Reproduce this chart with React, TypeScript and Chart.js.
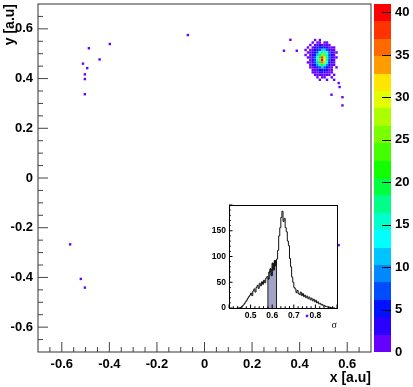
import React, { useEffect, useRef } from "react";
import { Chart, registerables } from "chart.js";
Chart.register(...registerables);

const FONT = "'Liberation Sans', Arial, Helvetica, sans-serif";

// ---------- main 2D histogram ----------
const BIN_SIZE = 0.01;
const clusterX0 = 0.42; // left edge of first cluster column
const clusterYTop = 0.56; // top edge of first cluster row
const clusterCounts = [
  [0, 0, 0, 0, 1, 0, 1, 0, 0, 0, 0, 0, 0, 0, 0],
  [0, 0, 0, 1, 0, 1, 1, 0, 1, 1, 0, 0, 0, 0, 0],
  [0, 0, 1, 0, 1, 2, 3, 2, 2, 2, 1, 0, 0, 0, 0],
  [0, 1, 0, 1, 3, 4, 5, 5, 6, 4, 2, 1, 1, 0, 0],
  [1, 0, 1, 2, 4, 6, 8, 11, 12, 8, 4, 2, 1, 0, 0],
  [0, 1, 1, 3, 5, 8, 13, 17, 18, 13, 7, 3, 1, 1, 0],
  [1, 0, 2, 3, 6, 11, 18, 25, 23, 16, 8, 4, 2, 0, 0],
  [0, 1, 1, 3, 7, 13, 22, 38, 28, 17, 8, 4, 1, 1, 0],
  [0, 0, 2, 4, 7, 14, 26, 40, 32, 17, 8, 3, 2, 0, 0],
  [0, 1, 1, 3, 7, 12, 22, 35, 25, 13, 6, 3, 1, 0, 0],
  [0, 0, 1, 3, 5, 9, 15, 21, 16, 9, 4, 2, 1, 0, 0],
  [0, 0, 1, 2, 4, 6, 8, 11, 8, 5, 3, 1, 0, 1, 0],
  [0, 0, 0, 1, 2, 4, 5, 6, 5, 3, 2, 1, 0, 0, 0],
  [0, 0, 0, 1, 1, 2, 3, 3, 3, 2, 1, 1, 0, 0, 0],
  [0, 0, 0, 0, 1, 1, 1, 2, 1, 1, 1, 0, 1, 0, 0],
  [0, 0, 0, 0, 0, 1, 0, 1, 1, 0, 0, 1, 0, 0, 0],
  [0, 0, 0, 0, 0, 0, 1, 0, 0, 1, 0, 0, 1, 0, 0],
];
const isolatedX = [-0.486, -0.398, -0.511, -0.441, -0.493, -0.503, -0.503, -0.503, -0.07, -0.565, -0.52, -0.503, 0.564, 0.431, 0.361, 0.334, 0.388, 0.564, 0.568, 0.534, 0.58, 0.58];
const isolatedY = [0.522, 0.539, 0.46, 0.477, 0.442, 0.417, 0.398, 0.337, 0.575, -0.267, -0.406, -0.441, -0.27, -0.555, 0.556, 0.512, 0.512, 0.382, 0.366, 0.335, 0.325, 0.292];

const xTickValues = [-0.6, -0.4, -0.2, 0, 0.2, 0.4, 0.6];
const yTickValues = [-0.6, -0.4, -0.2, 0, 0.2, 0.4, 0.6];
const zTickValues = [0, 5, 10, 15, 20, 25, 30, 35, 40];
const Z_MAX = 41;
const paletteColors = [
  "#6600ff", "#2a00ff", "#0011ff", "#004cff", "#0088ff",
  "#00c4ff", "#00ffff", "#00ffcc", "#00ff88", "#00ff3c",
  "#11ff00", "#44ff00", "#7bff00", "#adff00", "#e1ff00",
  "#ffe600", "#ff9d00", "#ff6a00", "#ff3300", "#ff0000",
];

// ---------- inset sigma histogram ----------
const sigmaStart = 0.435;
const sigmaWidth = 0.005;
const sigmaCounts = [
  0, 0, 0, 1, 2, 4, 6, 9, 12, 15,
  19, 22, 25, 29, 24, 33, 37, 31, 40, 44,
  38, 48, 43, 51, 46, 54, 49, 58, 61, 56,
  70, 76, 63, 87, 74, 92, 82, 95, 112, 140,
  156, 176, 188, 168, 174, 156, 148, 130, 121, 96,
  80, 60, 50, 40, 37, 30, 34, 28, 26, 31,
  24, 28, 22, 25, 20, 23, 18, 21, 16, 19,
  14, 17, 12, 15, 10, 12, 8, 9, 6, 7,
  4, 5, 3, 3, 2, 1, 2, 0, 1, 0, 0,
];
const shadeLow = 0.58;
const shadeHigh = 0.62;
const insetXTicks = [0.5, 0.6, 0.7, 0.8];
const insetYTicks = [0, 50, 100, 150];

function fmt(v: number) {
  return Math.abs(v) < 1e-9 ? "0" : v.toFixed(1);
}

function colorFor(v: number) {
  const idx = Math.min(paletteColors.length - 1, Math.floor(v / (Z_MAX / paletteColors.length)));
  return paletteColors[idx];
}

function buildBins() {
  const pts: { x: number; y: number; v: number }[] = [];
  clusterCounts.forEach((row, r) =>
    row.forEach((c, i) => {
      if (c > 0) pts.push({ x: clusterX0 + (i + 0.5) * BIN_SIZE, y: clusterYTop - (r + 0.5) * BIN_SIZE, v: c });
    })
  );
  isolatedX.forEach((x, k) => pts.push({ x, y: isolatedY[k], v: 1 }));
  return pts;
}

function noPad(s: any) {
  s.paddingTop = 0;
  s.paddingBottom = 0;
  s.paddingLeft = 0;
  s.paddingRight = 0;
}

const mainPlugin = {
  id: "rootFrame",
  afterDatasetsDraw(chart: any) {
    const { ctx, chartArea: a, scales } = chart;
    const xs = scales.x, ys = scales.y, zs = scales.z;
    ctx.save();
    ctx.lineWidth = 1;
    // frame
    ctx.strokeStyle = "#333";
    ctx.strokeRect(a.left, a.top, a.right - a.left, a.bottom - a.top);
    // ticks (inside)
    ctx.strokeStyle = "#444";
    ctx.beginPath();
    for (let k = -14; k <= 14; k++) {
      const v = k * 0.05;
      if (Math.abs(v) > 0.69) continue;
      const major = k % 4 === 0;
      const len = major ? 10 : 5;
      const px = xs.getPixelForValue(v);
      ctx.moveTo(px, a.bottom);
      ctx.lineTo(px, a.bottom - len);
      const py = ys.getPixelForValue(v);
      ctx.moveTo(a.left, py);
      ctx.lineTo(a.left + len, py);
    }
    ctx.stroke();
    // colour bar
    const cbL = a.right + 3, cbR = a.right + 20;
    for (let i = 0; i < paletteColors.length; i++) {
      const lo = (i * Z_MAX) / paletteColors.length;
      const hi = ((i + 1) * Z_MAX) / paletteColors.length;
      const yT = Math.round(zs.getPixelForValue(hi));
      const yB = Math.round(zs.getPixelForValue(lo));
      ctx.fillStyle = paletteColors[i];
      ctx.fillRect(cbL, yT, cbR - cbL, yB - yT);
    }
    ctx.strokeStyle = "#000";
    ctx.beginPath();
    zTickValues.forEach((v) => {
      if (v === 0) return;
      const y = Math.round(zs.getPixelForValue(v)) + 0.5;
      ctx.moveTo(cbR - 9, y);
      ctx.lineTo(cbR, y);
    });
    ctx.stroke();
    ctx.restore();
  },
};

const insetPlugin = {
  id: "insetFrame",
  beforeDraw(chart: any) {
    const { ctx, chartArea: a } = chart;
    ctx.save();
    ctx.fillStyle = "#fff";
    ctx.fillRect(a.left, a.top, a.right - a.left, a.bottom - a.top);
    ctx.restore();
  },
  afterDatasetsDraw(chart: any) {
    const { ctx, chartArea: a, scales } = chart;
    ctx.save();
    ctx.strokeStyle = "#000";
    ctx.lineWidth = 1;
    ctx.strokeRect(Math.round(a.left) + 0.5, Math.round(a.top) + 0.5, Math.round(a.right - a.left), Math.round(a.bottom - a.top));
    ctx.beginPath();
    for (let k = 0; k <= 25; k++) {
      const v = 0.4 + k * 0.02;
      const major = Math.abs(v * 10 - Math.round(v * 10)) < 1e-6;
      const px = scales.x.getPixelForValue(v);
      ctx.moveTo(px, a.bottom);
      ctx.lineTo(px, a.bottom - (major ? 3.5 : 1.8));
    }
    for (let k = 0; k <= 20; k++) {
      const v = k * 10;
      const major = v % 50 === 0;
      const py = scales.y.getPixelForValue(v);
      ctx.moveTo(a.left, py);
      ctx.lineTo(a.left + (major ? 3.5 : 1.8), py);
    }
    ctx.stroke();
    ctx.restore();
  },
};

export default function App() {
  const mainRef = useRef<HTMLCanvasElement>(null);
  const insetRef = useRef<HTMLCanvasElement>(null);

  useEffect(() => {
    const pts = buildBins();
    const tickFont = { family: FONT, size: 13, weight: "bold" as const };
    const titleFont = { family: FONT, size: 14, weight: "bold" as const };
    const main = new Chart(mainRef.current!, {
      type: "scatter",
      data: {
        datasets: [
          {
            data: pts,
            pointStyle: "rect",
            pointRadius: 1.7,
            pointHoverRadius: 1.7,
            pointBorderWidth: 0,
            borderWidth: 0,
            pointBackgroundColor: pts.map((p) => colorFor(p.v)),
            showLine: false,
          } as any,
        ],
      },
      options: {
        responsive: false,
        animation: false,
        events: [],
        layout: { padding: { top: 4, left: 0, right: 0, bottom: 0 } },
        plugins: { legend: { display: false }, tooltip: { enabled: false } },
        scales: {
          x: {
            type: "linear",
            min: -0.7,
            max: 0.7,
            afterBuildTicks: (s: any) => {
              s.ticks = xTickValues.map((v) => ({ value: v }));
            },
            afterFit: (s: any) => {
              s.height = 35;
              noPad(s);
            },
            grid: { display: false, drawTicks: false },
            border: { display: false },
            ticks: { padding: 5, font: tickFont, color: "#000", maxRotation: 0, autoSkip: false, callback: (v: any) => fmt(Number(v)) },
            title: { display: true, text: "x [a.u]", align: "end", color: "#000", font: titleFont, padding: { top: 0, bottom: 0 } },
          },
          y: {
            type: "linear",
            min: -0.7,
            max: 0.7,
            afterBuildTicks: (s: any) => {
              s.ticks = yTickValues.map((v) => ({ value: v }));
            },
            afterFit: (s: any) => {
              s.width = 38;
              noPad(s);
            },
            grid: { display: false, drawTicks: false },
            border: { display: false },
            ticks: { padding: 5, font: tickFont, color: "#000", autoSkip: false, callback: (v: any) => fmt(Number(v)) },
            title: { display: true, text: "y [a.u]", align: "end", color: "#000", font: titleFont, padding: { top: 2, bottom: 0 } },
          },
          z: {
            axis: "y",
            type: "linear",
            position: "right",
            min: 0,
            max: Z_MAX,
            afterBuildTicks: (s: any) => {
              s.ticks = zTickValues.map((v) => ({ value: v }));
            },
            afterFit: (s: any) => {
              s.width = 42;
              noPad(s);
            },
            grid: { display: false, drawTicks: false },
            border: { display: false },
            ticks: { padding: 24, font: tickFont, color: "#000", autoSkip: false, callback: (v: any) => String(v) },
          } as any,
        },
      },
      plugins: [mainPlugin],
    });

    const histPts = sigmaCounts.map((c, i) => ({ x: sigmaStart + i * sigmaWidth, y: c }));
    histPts.push({ x: sigmaStart + sigmaCounts.length * sigmaWidth, y: 0 });
    const shadePts: { x: number; y: number }[] = [{ x: shadeLow, y: 0 }];
    let last = 0;
    sigmaCounts.forEach((c, i) => {
      const x = sigmaStart + i * sigmaWidth;
      if (x >= shadeLow - 1e-9 && x < shadeHigh - 1e-9) {
        shadePts.push({ x, y: c });
        last = c;
      }
    });
    shadePts.push({ x: shadeHigh, y: last });
    shadePts.push({ x: shadeHigh, y: 0 });

    const insetTick = { family: FONT, size: 8.5, weight: "bold" as const };
    const inset = new Chart(insetRef.current!, {
      type: "line",
      data: {
        datasets: [
          { data: histPts, stepped: "before", borderColor: "#111", borderWidth: 1, pointRadius: 0, fill: false, order: 1 } as any,
          { data: shadePts, stepped: "before", borderColor: "#222", borderWidth: 1, backgroundColor: "#a3a3c6", pointRadius: 0, fill: "origin", order: 2 } as any,
        ],
      },
      options: {
        responsive: false,
        animation: false,
        events: [],
        layout: { padding: { top: 5, right: 8, left: 0, bottom: 0 } },
        plugins: { legend: { display: false }, tooltip: { enabled: false } },
        scales: {
          x: {
            type: "linear",
            min: 0.4,
            max: 0.9,
            afterBuildTicks: (s: any) => {
              s.ticks = insetXTicks.map((v) => ({ value: v }));
            },
            afterFit: (s: any) => {
              s.height = 27;
              noPad(s);
            },
            grid: { display: false, drawTicks: false },
            border: { display: false },
            ticks: { padding: 3, font: insetTick, color: "#000", maxRotation: 0, autoSkip: false, callback: (v: any) => Number(v).toFixed(1) },
            title: { display: true, text: "σ", align: "end", color: "#000", font: { family: "'Liberation Serif', serif", size: 10 }, padding: { top: 0, bottom: 4 } },
          },
          y: {
            type: "linear",
            min: 0,
            max: 200,
            afterBuildTicks: (s: any) => {
              s.ticks = insetYTicks.map((v) => ({ value: v }));
            },
            afterFit: (s: any) => {
              s.width = 24;
              noPad(s);
            },
            grid: { display: false, drawTicks: false },
            border: { display: false },
            ticks: { padding: 3, font: insetTick, color: "#000", autoSkip: false, callback: (v: any) => String(v) },
          },
        },
      },
      plugins: [insetPlugin],
    });

    return () => {
      main.destroy();
      inset.destroy();
    };
  }, []);

  return (
    <div style={{ position: "fixed", left: 0, top: 0, width: 413, height: 387, background: "#fff" }}>
      <canvas ref={mainRef} width={413} height={387} style={{ position: "absolute", left: 0, top: 0 }} />
      <canvas ref={insetRef} width={140} height={135} style={{ position: "absolute", left: 205, top: 200 }} />
    </div>
  );
}
